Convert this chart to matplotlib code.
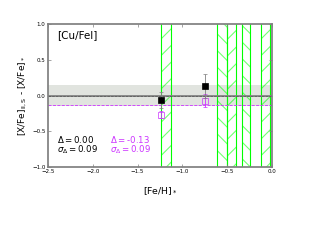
"""[Cu/FeI] abundance differences vs [Fe/H]."""
import matplotlib
matplotlib.use('Agg')
import matplotlib.pyplot as plt

# data
feh_black = [-1.24, -0.75]
dx_black = [-0.065, 0.135]
err_black = [0.11, 0.17]

feh_pink = [-1.24, -0.75]
dx_pink = [-0.27, -0.07]
err_pink = [0.05, 0.09]

# [Fe/H] ranges shown as hatched green bands
band_lo = [-1.24, -0.61, -0.50, -0.33, -0.12]
band_hi = [-1.13, -0.50, -0.40, -0.24, -0.02]
band_hatch = ['/', '\\', '/', '\\', '/']

mean_black, sigma_black = 0.00, 0.09
mean_pink, sigma_pink = -0.13, 0.09
shade = 0.15

pink = '#cc33ff'

plt.rcParams['hatch.linewidth'] = 1.6

fig = plt.figure(figsize=(6.4, 4.8), dpi=50)
ax = fig.add_axes([0.15, 0.304, 0.70, 0.596])

for lo, hi, h in zip(band_lo, band_hi, band_hatch):
    ax.axvspan(lo, hi, facecolor='none', edgecolor='lime', hatch=h,
               lw=0, alpha=0.55, zorder=1)
    ax.axvline(lo, color='lime', lw=1.6, zorder=1)
    ax.axvline(hi, color='lime', lw=1.6, zorder=1)

ax.axhspan(-shade, shade, color='#d8dbd5', alpha=0.75, lw=0, zorder=0)
ax.axhline(mean_black, color='gray', lw=2.5, zorder=2)
ax.axhline(mean_black, color='k', ls='--', lw=1.0, alpha=0.4, zorder=2)
ax.axhline(mean_pink, color=pink, ls='--', lw=1.2, zorder=2)

ax.errorbar(feh_black, dx_black, yerr=err_black, fmt='s', color='k',
            ecolor='gray', ms=8, capsize=3, elinewidth=1.2, zorder=4)
ax.errorbar(feh_pink, dx_pink, yerr=err_pink, fmt='s', mfc='none',
            mec=pink, ecolor=pink, ms=8, capsize=3, elinewidth=1.2, zorder=3)

ax.text(0.04, 0.92, '[Cu/FeI]', transform=ax.transAxes, fontsize=15,
        va='center')
ax.text(0.04, 0.196, r'$\Delta=$' + f'{mean_black:.2f}', transform=ax.transAxes,
        fontsize=12.5, va='center')
ax.text(0.04, 0.12, r'$\sigma_\Delta=$' + f'{sigma_black:.2f}',
        transform=ax.transAxes, fontsize=12.5, va='center')
ax.text(0.277, 0.196, r'$\Delta=$' + f'{mean_pink:.2f}', transform=ax.transAxes,
        fontsize=12.5, va='center', color=pink)
ax.text(0.277, 0.12, r'$\sigma_\Delta=$' + f'{sigma_pink:.2f}',
        transform=ax.transAxes, fontsize=12.5, va='center', color=pink)

ax.set_xlim(-2.5, 0.0)
ax.set_ylim(-1.0, 1.0)
ax.set_xticks([-2.5, -2.0, -1.5, -1.0, -0.5, 0.0])
ax.set_yticks([-1.0, -0.5, 0.0, 0.5, 1.0])
ax.tick_params(direction='in', top=True, right=True, labelsize=8,
               color='gray', length=4, width=1)
for s in ax.spines.values():
    s.set_color('gray')
    s.set_linewidth(2.5)

ax.set_xlabel(r'[Fe/H]$_*$', fontsize=13.5, labelpad=16)
ax.set_ylabel(r'[X/Fe]$_{\rm II,S}$ - [X/Fe]$_*$', fontsize=13)

fig.savefig('out.png', dpi=50)
